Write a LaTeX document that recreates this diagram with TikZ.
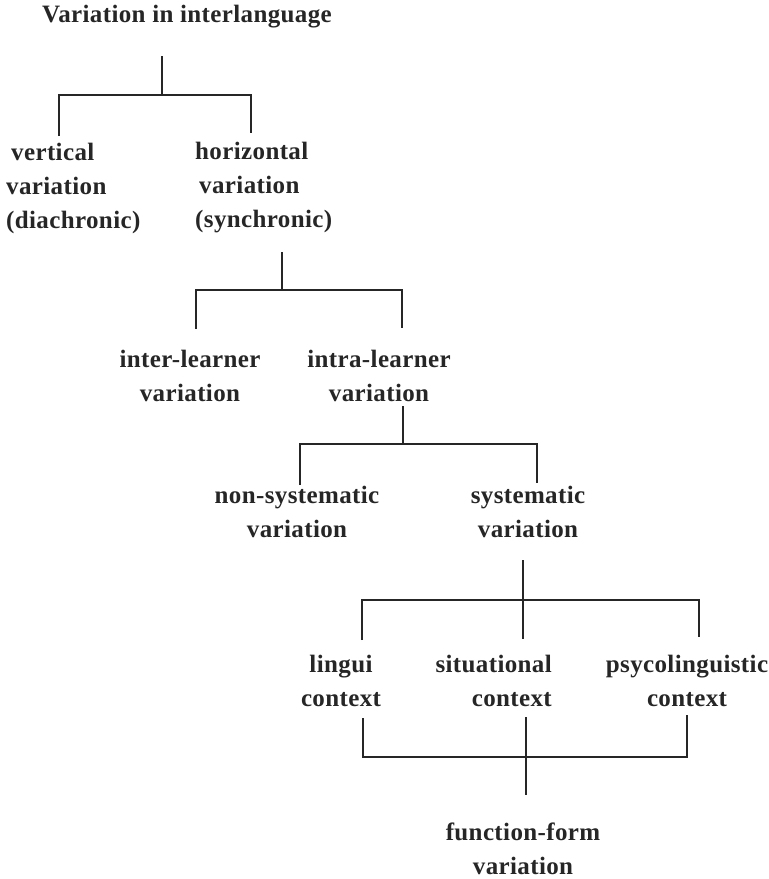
\documentclass[tikz,border=0pt]{standalone}
\usepackage{fontspec}
\setmainfont{Liberation Serif}[LetterSpace=1.5]
\begin{document}
\begin{tikzpicture}[x=1pt,y=-1pt,
  lbl/.style={font=\fontsize{25}{34}\selectfont\bfseries, inner sep=0pt, text=black!85},
  conn/.style={line width=1.3pt, black!85}]
\useasboundingbox (0,0) rectangle (769,879);
% nodes
\node[lbl] (root) at (187,17) {Variation in interlanguage};
\node[lbl, align=left, anchor=west] (vert) at (6,188) {\hspace{5pt}vertical\\variation\\(diachronic)};
\node[lbl, align=left, anchor=west] (horiz) at (195,188) {horizontal\\\hspace{4pt}variation\\(synchronic)};
\node[lbl, align=center] (inter) at (190,376) {inter-learner\\variation};
\node[lbl, align=center] (intra) at (379,376) {intra-learner\\variation};
\node[lbl, align=center] (nonsys) at (297,512) {non-systematic\\variation};
\node[lbl, align=center] (sys) at (528,512) {systematic\\variation};
\node[lbl, align=center] (lingui) at (341,681) {lingui\\context};
\node[lbl, align=right, anchor=east] (situ) at (552,681) {situational\\context};
\node[lbl, align=center] (psyco) at (687,681) {psycolinguistic\\context};
\node[lbl, align=center] (func) at (523,849) {function-form\\variation};
% coordinates
\coordinate (a0) at (162,56);  \coordinate (a1) at (162,95);
\coordinate (aL) at (59,95);   \coordinate (aR) at (251,95);
\coordinate (aLd) at (59,136); \coordinate (aRd) at (251,133);
\coordinate (b0) at (282,252); \coordinate (b1) at (282,290);
\coordinate (bL) at (196,290); \coordinate (bR) at (402,290);
\coordinate (bLd) at (196,329);\coordinate (bRd) at (402,328);
\coordinate (c0) at (403,406); \coordinate (c1) at (403,444);
\coordinate (cL) at (300,444); \coordinate (cR) at (537,444);
\coordinate (cLd) at (300,485);\coordinate (cRd) at (537,483);
\coordinate (d0) at (523,560); \coordinate (d1) at (523,600);
\coordinate (dL) at (362,600); \coordinate (dR) at (699,600);
\coordinate (dLd) at (362,640);\coordinate (dMd) at (523,639);\coordinate (dRd) at (699,637);
\coordinate (eL) at (363,718); \coordinate (eM) at (526,717); \coordinate (eR) at (687,715);
\coordinate (eLb) at (363,757);\coordinate (eMb) at (526,757);\coordinate (eRb) at (687,757);
\coordinate (e1) at (526,795);
% connectors
\draw[conn] (a0) -- (a1);
\draw[conn] (aLd) -- (aL) -- (aR) -- (aRd);
\draw[conn] (b0) -- (b1);
\draw[conn] (bLd) -- (bL) -- (bR) -- (bRd);
\draw[conn] (c0) -- (c1);
\draw[conn] (cLd) -- (cL) -- (cR) -- (cRd);
\draw[conn] (d0) -- (dMd);
\draw[conn] (dLd) -- (dL) -- (dR) -- (dRd);
\draw[conn] (eL) -- (eLb) -- (eRb) -- (eR);
\draw[conn] (eM) -- (e1);
\end{tikzpicture}
\end{document}
